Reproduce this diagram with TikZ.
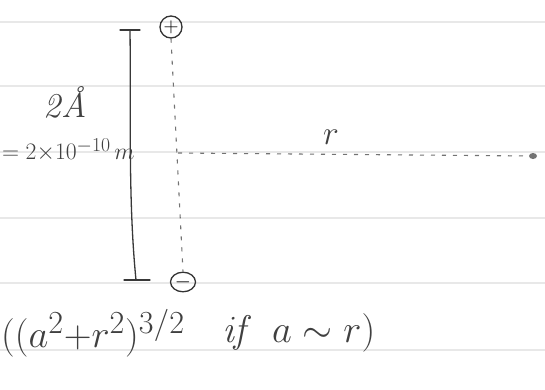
\documentclass[tikz,border=0pt]{standalone}
\usetikzlibrary{shapes.geometric}
\begin{document}
\begin{tikzpicture}[x=1pt,y=-1pt,
  ink/.style={draw=black!78, line width=1.3pt, line cap=round},
  rule/.style={draw=black!9, line width=1.2pt},
  hand/.style={text=black!75, inner sep=0pt, font=\Huge\itshape},
  dotline/.style={draw=black!55, line width=1.1pt, dash pattern=on 4pt off 7pt},
  charge/.style={circle, draw=black!80, line width=1.3pt, inner sep=0pt, minimum size=22pt, font=\huge}]
\useasboundingbox (0,0) rectangle (545,389);
\fill[white] (0,0) rectangle (545,389);
% ruled lines
\foreach \yy in {22,86,152,218,283,350} \draw[rule] (0,\yy) -- (545,\yy);
% bar with ticks
\coordinate (tl) at (120,30); \coordinate (tr) at (140,30);
\coordinate (bl) at (124,280); \coordinate (br) at (150,280);
\coordinate (top) at (130,30); \coordinate (bot) at (136,280);
\draw[ink] (tl) -- (tr);
\draw[ink] (bl) -- (br);
\draw[ink] (top) .. controls (131,110) and (128,200) .. (bot);
% charges
\node[charge] (p) at (171,27) {$+$};
\node[charge, ellipse, minimum width=25pt, minimum height=19pt] (m) at (183,282) {$-$};
\draw[dotline] (p.south) -- (m.north);
% r line
\coordinate (mid) at (178,153);
\coordinate (end) at (533,156);
\draw[dotline] (mid) -- (end);
\fill[black!55] (end) ellipse (4pt and 3pt);
\node[hand] (r) at (331,137) {\scalebox{1.35}{$r$}};
% labels
\node[hand] (ang) at (65,102) {\scalebox{1.4}{2\AA}};
\node[hand, anchor=west] (eq) at (2,150) {\scalebox{0.95}{$={}2{\times}10^{-10}\,m$}};
% bottom formula
\node[hand, anchor=west] (f) at (1,333) {\scalebox{1.55}{$((a^2{+}r^2)^{3/2}$}};
\node[hand] (if) at (238,333) {\scalebox{1.55}{$\mathit{if}$}};
\node[hand, anchor=west] (cond) at (272,333) {\scalebox{1.55}{$a\;{\sim}\;r)$}};
\end{tikzpicture}
\end{document}
